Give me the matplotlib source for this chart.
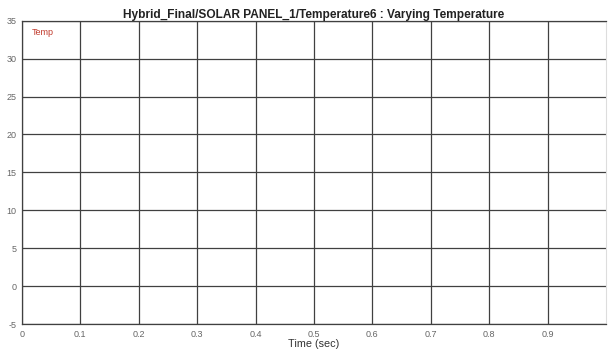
import matplotlib
matplotlib.use("Agg")
import matplotlib.pyplot as plt

plt.rcParams["font.family"] = ["Liberation Sans", "DejaVu Sans"]

title = "Hybrid_Final/SOLAR PANEL_1/Temperature6 : Varying Temperature"
signal_name = "Temp"
x_ticks = [0, 0.1, 0.2, 0.3, 0.4, 0.5, 0.6, 0.7, 0.8, 0.9]
y_ticks = [-5, 0, 5, 10, 15, 20, 25, 30, 35]
x_range = (0, 1.0)
y_range = (-5, 35)

fig = plt.figure(figsize=(6.09, 3.5), dpi=100)
ax = fig.add_axes([0.036, 0.074, 0.959, 0.867])

ax.set_xlim(*x_range)
ax.set_ylim(*y_range)
ax.set_xticks(x_ticks)
ax.set_yticks(y_ticks)
ax.set_xticklabels([f"{t:g}" for t in x_ticks])
ax.set_yticklabels([str(t) for t in y_ticks])
ax.tick_params(length=0, labelsize=6.5, colors="#666666", pad=4)

ax.grid(True, color="#404040", linewidth=0.9)
for side in ["left", "bottom", "top"]:
    ax.spines[side].set_color("#404040")
    ax.spines[side].set_linewidth(0.9)
ax.spines["right"].set_color("#dddddd")
ax.spines["right"].set_linewidth(0.8)

ax.set_title(title, fontsize=8.6, fontweight="bold", color="#222222", pad=2)
ax.set_xlabel("Time (sec)", fontsize=7.8, color="#333333", labelpad=0)
ax.text(0.017, 0.975, signal_name, transform=ax.transAxes, color="#c0392b",
        fontsize=6.5, va="top", ha="left")

fig.savefig("out.png", dpi=100)
